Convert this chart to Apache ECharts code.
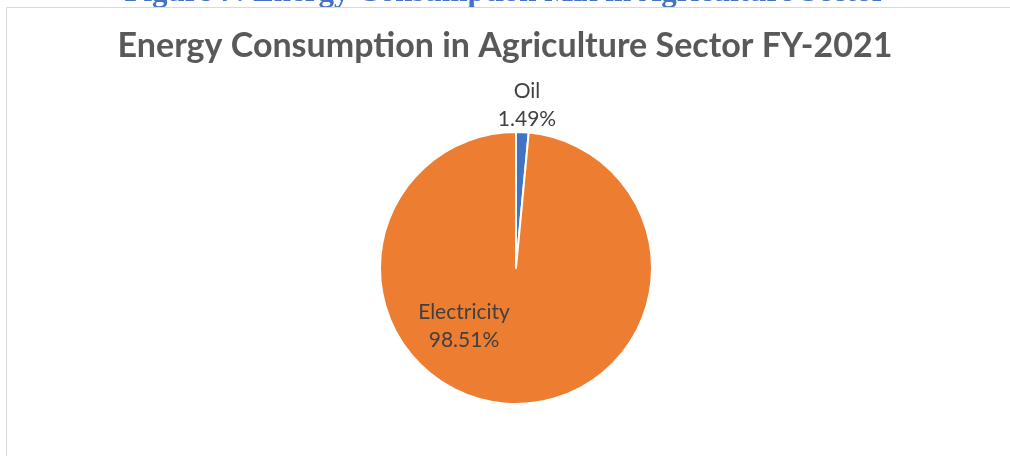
<!DOCTYPE html>
<html>
<head>
<meta charset="utf-8">
<script src="https://cdn.jsdelivr.net/npm/echarts@6/dist/echarts.min.js"></script>
<style>
  html, body { margin: 0; padding: 0; background: #fff; }
  #main { width: 1010px; height: 456px; }
</style>
</head>
<body>
<div id="main"></div>
<script>
// data
var categories = ['Oil', 'Electricity'];
var shares = [1.49, 98.51];
var colors = ['#4472C4', '#ED7D31'];

var chart = echarts.init(document.getElementById('main'));

var pieData = [];
for (var i = 0; i < categories.length; i++) {
    pieData.push({ name: categories[i], value: shares[i], itemStyle: { color: colors[i] } });
}

chart.setOption({
    animation: false,
    graphic: [
        // caption of the figure, cut at the top of the picture
        {
            type: 'text', left: 'center', top: -23,
            style: {
                text: 'Figure 7: Energy Consumption Mix in Agriculture Sector',
                font: 'bold 31px "Liberation Serif"', fill: '#4472C4'
            }
        },
        // chart frame
        {
            type: 'rect', shape: { x: 6.5, y: 7.5, width: 1100, height: 500 },
            style: { fill: 'none', stroke: '#d9d9d9', lineWidth: 1 }
        }
    ],
    title: {
        text: 'Energy Consumption in Agriculture Sector FY-2021',
        left: 'center', top: 24,
        textStyle: { fontFamily: 'Lato', fontWeight: 'bold', fontSize: 34, color: '#595959' }
    },
    series: [{
        type: 'pie',
        center: [516, 268],
        radius: [0, 136],
        startAngle: 90,
        clockwise: true,
        data: pieData,
        itemStyle: { borderColor: '#fff', borderWidth: 2 },
        label: {
            show: true,
            position: 'inside',
            formatter: function (p) { return p.name + '\n' + p.value.toFixed(2) + '%'; },
            fontFamily: 'Lato', fontSize: 21, color: '#404040', lineHeight: 28
        },
        labelLine: { show: false },
        labelLayout: function (p) {
            // best-fit style label places, relative to the pie centre
            if (p.dataIndex === 0) {
                return { x: 516 + 11, y: 268 - 163, align: 'center', verticalAlign: 'middle' };
            }
            return { x: 516 - 52, y: 268 + 58, align: 'center', verticalAlign: 'middle' };
        }
    }]
});
</script>
</body>
</html>
